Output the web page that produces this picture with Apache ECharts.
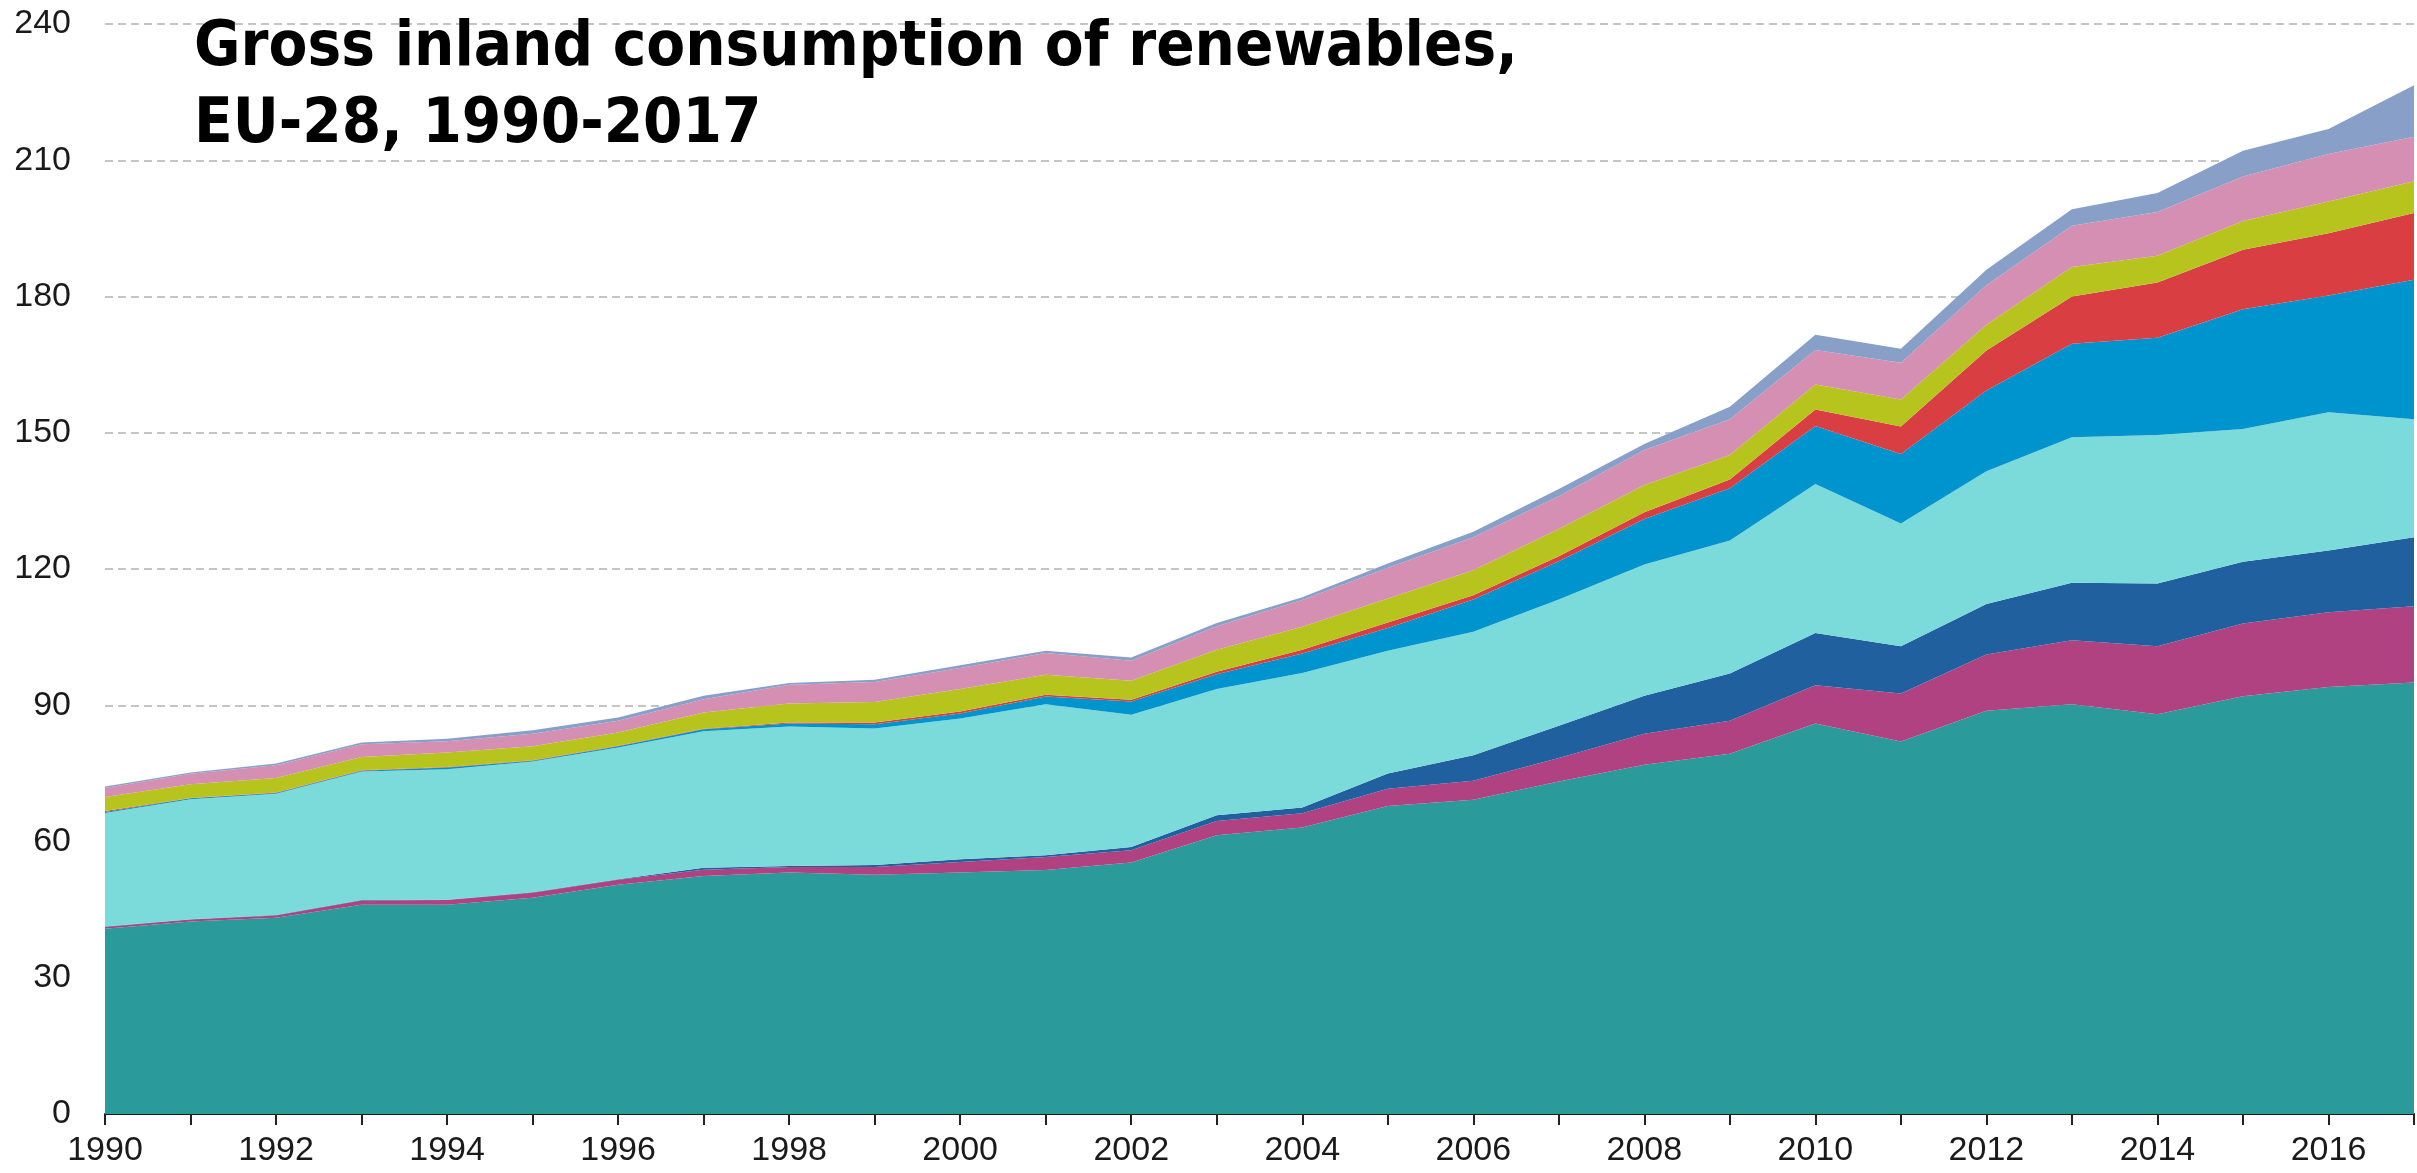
<!DOCTYPE html>
<html>
<head>
<meta charset="utf-8">
<script src="https://cdn.jsdelivr.net/npm/echarts@6/dist/echarts.min.js"></script>
<style>
html,body{margin:0;padding:0;background:#fff;}
#chart{width:2417px;height:1173px;}
</style>
</head>
<body>
<div id="chart"></div>
<script>
const years = ["1990","1991","1992","1993","1994","1995","1996","1997","1998","1999","2000","2001","2002","2003","2004","2005","2006","2007","2008","2009","2010","2011","2012","2013","2014","2015","2016","2017"];
const yTicks = [0,30,60,90,120,150,180,210,240];

const solidBiofuels = [40.8,42.4,43.2,46.1,46.1,47.6,50.5,52.4,53.2,52.7,53.2,53.7,55.4,61.4,63.1,67.8,69.2,73.2,76.9,79.3,86.0,82.0,88.8,90.2,88.0,92.0,94.0,95.0];
const biogas        = [0.4,0.4,0.5,0.9,1.0,1.1,1.1,1.4,1.2,1.7,2.3,2.9,2.7,3.1,3.1,3.8,4.2,5.2,6.8,7.3,8.4,10.6,12.4,14.1,15.0,16.0,16.5,16.8];
const liquidBiofuels= [0.1,0.1,0.1,0.1,0.1,0.1,0.1,0.4,0.2,0.4,0.6,0.4,0.7,1.3,1.3,3.4,5.6,7.1,8.4,10.4,11.5,10.4,11.1,12.7,13.8,13.6,13.6,15.2];
const hydro         = [25.0,26.4,26.7,28.3,28.7,28.8,29.0,30.1,30.7,30.1,31.0,33.2,29.1,27.8,29.6,27.0,27.2,27.8,28.9,29.3,32.8,27.0,29.2,32.0,32.7,29.2,30.4,26.0];
const wind          = [0.2,0.2,0.2,0.2,0.4,0.2,0.3,0.4,0.7,0.9,1.1,1.7,2.9,3.2,4.3,5.0,7.1,8.4,10.0,11.5,12.8,15.3,17.8,20.6,21.4,26.4,25.7,30.7];
const solar         = [0.2,0.1,0.1,0.1,0.1,0.1,0.1,0.1,0.2,0.4,0.4,0.4,0.4,0.6,0.8,1.2,0.9,1.1,1.5,1.9,3.6,6.1,8.8,10.4,12.2,13.1,13.7,14.7];
const geothermal    = [3.1,3.0,3.2,2.9,3.2,3.1,2.9,3.6,4.2,4.5,5.0,4.4,4.2,4.8,5.1,5.3,5.5,6.0,6.0,5.4,5.5,5.9,5.7,6.5,5.9,6.3,7.0,7.0];
const renewableWaste= [2.0,2.3,2.8,2.8,2.5,2.7,2.6,2.9,4.1,4.4,4.6,4.8,4.4,5.2,5.9,6.8,7.3,7.2,7.7,7.9,7.6,8.1,8.7,9.1,9.6,9.8,10.5,9.8];
const heatPumps     = [0.3,0.3,0.4,0.4,0.5,0.8,0.7,0.8,0.4,0.5,0.6,0.5,0.7,0.7,0.6,0.9,1.2,1.6,1.3,2.7,3.4,3.1,3.4,3.6,4.2,5.7,5.5,11.3];

const seriesDefs = [
  {name:"Solid biofuels", data:solidBiofuels, color:"#2a9a9a"},
  {name:"Biogas", data:biogas, color:"#b04282"},
  {name:"Liquid biofuels", data:liquidBiofuels, color:"#21609e"},
  {name:"Hydro", data:hydro, color:"#7bdada"},
  {name:"Wind", data:wind, color:"#0094ce"},
  {name:"Solar", data:solar, color:"#d83e42"},
  {name:"Geothermal", data:geothermal, color:"#b8c41e"},
  {name:"Renewable wastes", data:renewableWaste, color:"#d48fb2"},
  {name:"Heat pumps", data:heatPumps, color:"#88a0c8"}
];

const chart = echarts.init(document.getElementById('chart'), null, {renderer:'canvas'});
chart.setOption({
  animation:false,
  backgroundColor:'#ffffff',
  title:{
    text:'Gross inland consumption of renewables,\nEU-28, 1990-2017',
    left:189, top:5,
    textStyle:{fontFamily:'"DejaVu Sans Condensed","DejaVu Sans",sans-serif', fontWeight:'bold', fontSize:63, lineHeight:77, color:'#000'}
  },
  grid:{left:105, right:3, top:24, bottom:59, containLabel:false},
  xAxis:{
    type:'category', data:years, boundaryGap:false,
    axisLine:{show:true, lineStyle:{color:'#1a1a1a', width:2}},
    axisTick:{show:true, interval:0, length:11, lineStyle:{color:'#222', width:2}},
    axisLabel:{interval:1, margin:20, fontFamily:'"Liberation Sans",Arial,sans-serif', fontSize:34, color:'#1a1a1a'},
    splitLine:{show:false}
  },
  yAxis:{
    type:'value', min:yTicks[0], max:yTicks[yTicks.length-1], interval:30,
    axisLine:{show:false}, axisTick:{show:false},
    axisLabel:{margin:34, fontFamily:'"Liberation Sans",Arial,sans-serif', fontSize:34, color:'#1a1a1a'},
    splitLine:{show:true, lineStyle:{color:'#c4c4c4', width:2, type:[8,5]}}
  },
  series: seriesDefs.map(s => ({
    name:s.name, type:'line', stack:'total', data:s.data,
    symbol:'none', showSymbol:false,
    lineStyle:{width:0, color:s.color},
    itemStyle:{color:s.color},
    areaStyle:{color:s.color, opacity:1},
    z:2
  }))
});
</script>
</body>
</html>
